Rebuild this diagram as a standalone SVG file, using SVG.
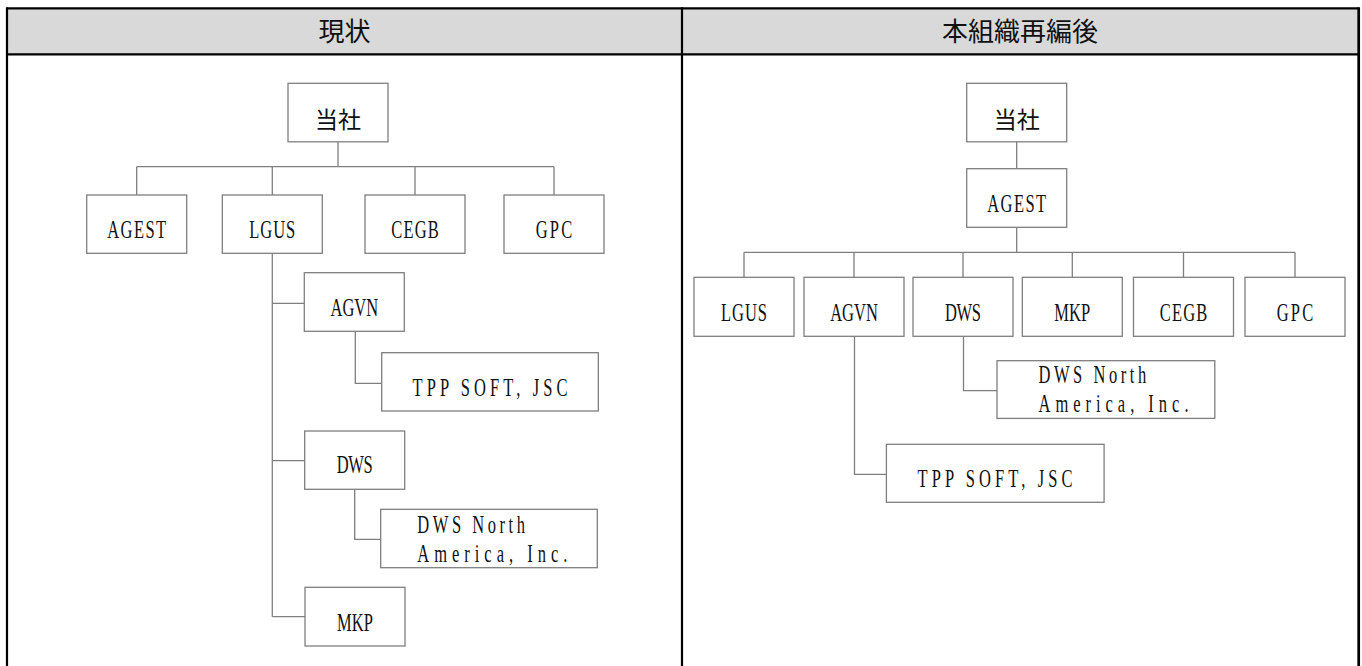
<svg xmlns="http://www.w3.org/2000/svg" width="1362" height="666" viewBox="0 0 1362 666">
<style>
.bg{fill:#ffffff}
.hdr{fill:#d9d9d9}
.frame{stroke:#000;stroke-width:2.2;fill:none}
.box{fill:#ffffff;stroke:#7f7f7f;stroke-width:1.3}
.ln{fill:none;stroke:#7f7f7f;stroke-width:1.3}
.t{font-family:"Liberation Serif","Times New Roman",serif;font-size:25px;fill:#111;text-anchor:middle}
.tl{text-anchor:start}
.cjk{font-family:"Noto Sans CJK JP","Noto Sans CJK SC",sans-serif;font-size:23px;fill:#111;text-anchor:middle}
.hd{font-family:"Noto Sans CJK JP","Noto Sans CJK SC",sans-serif;font-size:26px;fill:#111;text-anchor:middle}
</style>
<rect class="bg" x="0" y="0" width="1362" height="666"/>
<g id="table">
<rect class="hdr" x="7" y="8.3" width="1351.7" height="46"/>
<line class="frame" x1="7" y1="8.3" x2="1358.7" y2="8.3"/>
<line class="frame" x1="7" y1="54.3" x2="1358.7" y2="54.3"/>
<line class="frame" x1="7" y1="7.2" x2="7" y2="666"/>
<line class="frame" x1="682" y1="7.2" x2="682" y2="666"/>
<line class="frame" x1="1358.7" y1="7.2" x2="1358.7" y2="666" style="stroke-width:2.7"/>
<text class="hd" x="344.5" y="40.8">現状</text>
<text class="hd" x="1020" y="40.8">本組織再編後</text>
</g>
<g id="connectors">
<path class="ln" d="M338,141.8 V166.7 M136.7,166.7 H554 M136.7,166.7 V195 M272.3,166.7 V195 M415,166.7 V195 M554,166.7 V195"/>
<path class="ln" d="M272.3,253.3 V616.7 M272.3,303.3 H304.3 M272.3,460.7 H304.7 M272.3,616.7 H305"/>
<path class="ln" d="M355.3,331.3 V383.3 H381.7"/>
<path class="ln" d="M354.7,489.3 V539.3 H380.7"/>
<path class="ln" d="M1016.7,141.8 V168.7 M1016.7,227.3 V252.3 M744,252.3 H1295 M744,252.3 V277.3 M854,252.3 V277.3 M963,252.3 V277.3 M1072.3,252.3 V277.3 M1183.5,252.3 V277.3 M1295,252.3 V277.3"/>
<path class="ln" d="M854.5,336.3 V474.3 H886.4"/>
<path class="ln" d="M963.5,336.3 V390.7 H997"/>
</g>
<g id="l-toujisha"><rect class="box" x="288" y="83.3" width="100" height="58.5"/><text class="cjk" x="338" y="128">当社</text></g>
<g id="l-agest"><rect class="box" x="86.7" y="195" width="100" height="58.3"/><text class="t" transform="translate(136.7,238.3) scale(0.66,1)" textLength="89.4" lengthAdjust="spacing">AGEST</text></g>
<g id="l-lgus"><rect class="box" x="222.3" y="195" width="100" height="58.3"/><text class="t" transform="translate(272.3,238.3) scale(0.66,1)" textLength="69.7" lengthAdjust="spacing">LGUS</text></g>
<g id="l-cegb"><rect class="box" x="365" y="195" width="100" height="58.3"/><text class="t" transform="translate(415,238.3) scale(0.66,1)" textLength="72.3" lengthAdjust="spacing">CEGB</text></g>
<g id="l-gpc"><rect class="box" x="504" y="195" width="100" height="58.3"/><text class="t" transform="translate(554,238.3) scale(0.66,1)" textLength="55.6" lengthAdjust="spacing">GPC</text></g>
<g id="l-agvn"><rect class="box" x="304.3" y="272.7" width="100" height="58.6"/><text class="t" transform="translate(354.3,316) scale(0.66,1)" textLength="72.3" lengthAdjust="spacing">AGVN</text></g>
<g id="l-tpp"><rect class="box" x="381.7" y="352.7" width="216.6" height="58.3"/><text class="t" transform="translate(490,396) scale(0.66,1)" textLength="234.8" lengthAdjust="spacing">TPP SOFT, JSC</text></g>
<g id="l-dws"><rect class="box" x="304.7" y="431" width="100" height="58.3"/><text class="t" transform="translate(354.7,473.3) scale(0.66,1)" textLength="54.5" lengthAdjust="spacing">DWS</text></g>
<g id="l-dwsna"><rect class="box" x="380.7" y="509.3" width="216.6" height="58.4"/><text class="t tl" transform="translate(417.3,532.7) scale(0.66,1)" textLength="163.2" lengthAdjust="spacing">DWS North</text><text class="t tl" transform="translate(417.3,561.7) scale(0.66,1)" textLength="227.3" lengthAdjust="spacing">America, Inc.</text></g>
<g id="l-mkp"><rect class="box" x="305" y="587.3" width="100" height="58.7"/><text class="t" transform="translate(355,630.7) scale(0.66,1)" textLength="54.5" lengthAdjust="spacing">MKP</text></g>
<g id="r-toujisha"><rect class="box" x="966.7" y="83.3" width="100" height="58.5"/><text class="cjk" x="1016.7" y="128">当社</text></g>
<g id="r-agest"><rect class="box" x="966.7" y="168.7" width="100" height="58.6"/><text class="t" transform="translate(1016.7,212) scale(0.66,1)" textLength="89.4" lengthAdjust="spacing">AGEST</text></g>
<g id="r-lgus"><rect class="box" x="694" y="277.3" width="100" height="59"/><text class="t" transform="translate(744,320.8) scale(0.66,1)" textLength="69.7" lengthAdjust="spacing">LGUS</text></g>
<g id="r-agvn"><rect class="box" x="804" y="277.3" width="100" height="59"/><text class="t" transform="translate(854,320.8) scale(0.66,1)" textLength="72.3" lengthAdjust="spacing">AGVN</text></g>
<g id="r-dws"><rect class="box" x="913" y="277.3" width="100" height="59"/><text class="t" transform="translate(963,320.8) scale(0.66,1)" textLength="54.5" lengthAdjust="spacing">DWS</text></g>
<g id="r-mkp"><rect class="box" x="1022.3" y="277.3" width="100" height="59"/><text class="t" transform="translate(1072.3,320.8) scale(0.66,1)" textLength="54.5" lengthAdjust="spacing">MKP</text></g>
<g id="r-cegb"><rect class="box" x="1133.5" y="277.3" width="100" height="59"/><text class="t" transform="translate(1183.5,320.8) scale(0.66,1)" textLength="72.3" lengthAdjust="spacing">CEGB</text></g>
<g id="r-gpc"><rect class="box" x="1245" y="277.3" width="100" height="59"/><text class="t" transform="translate(1295,320.8) scale(0.66,1)" textLength="55.6" lengthAdjust="spacing">GPC</text></g>
<g id="r-dwsna"><rect class="box" x="997" y="360.7" width="217.8" height="57.7"/><text class="t tl" transform="translate(1038.5,383.3) scale(0.66,1)" textLength="163.2" lengthAdjust="spacing">DWS North</text><text class="t tl" transform="translate(1038.5,411.7) scale(0.66,1)" textLength="227.3" lengthAdjust="spacing">America, Inc.</text></g>
<g id="r-tpp"><rect class="box" x="886.4" y="444.3" width="217.7" height="58"/><text class="t" transform="translate(995,487) scale(0.66,1)" textLength="234.8" lengthAdjust="spacing">TPP SOFT, JSC</text></g>
</svg>
